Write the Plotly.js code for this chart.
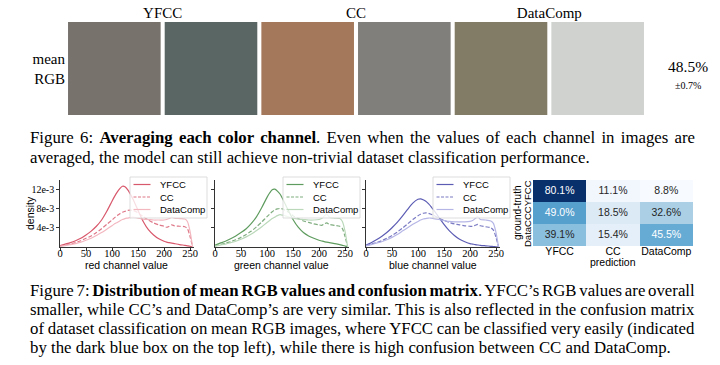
<!DOCTYPE html>
<html><head><meta charset="utf-8">
<script src="https://cdn.plot.ly/plotly-3.0.1.min.js"></script>
<style>html,body{margin:0;padding:0;background:#fff;} #chart{width:720px;height:365px;}</style>
</head><body><div id="chart"></div>
<script>
// ---------------- data ----------------
const datasetNames = ["YFCC", "CC", "DataComp"];
const swatchIds = [0, 1, 2, 3, 4, 5];
const swatchDataset = ["YFCC", "YFCC", "CC", "CC", "DataComp", "DataComp"];
const swatchHeight = [1, 1, 1, 1, 1, 1];
const swatchColors = ["#77726c", "#5a6663", "#a4785a", "#807f7b", "#827b65", "#cfd2cf"];
const meanRgbAccuracy = "48.5%";
const meanRgbStd = "±0.7%";

// channel value grid and densities (units of 1e-3)
const channelValue = [0,10,20,30,40,50,60,70,80,90,100,105,110,115,120,125,130,140,150,160,170,180,190,200,205,210,215,220,230,240,245,250,255];
const redYFCC     = [0.3,0.6,0.9,1.3,1.8,2.5,3.3,4.3,5.6,7.4,9.5,10.5,11.4,12.1,12.6,12.5,11.9,10.0,7.6,5.3,3.6,2.5,1.7,1.2,1.0,0.9,0.8,0.7,0.5,0.35,0.25,0.15,0.0];
const redCC       = [0.2,0.4,0.6,0.9,1.3,1.8,2.3,3.0,3.8,4.7,5.6,6.1,6.5,6.9,7.2,7.4,7.6,7.6,7.1,6.3,5.6,5.0,4.6,4.3,4.1,4.3,4.6,4.4,4.3,4.2,3.8,2.2,0.0];
const redDataComp = [0.15,0.3,0.5,0.7,1.0,1.4,1.8,2.4,3.0,3.7,4.4,4.8,5.1,5.4,5.7,5.9,6.0,6.2,6.0,5.8,5.7,5.6,5.6,5.6,5.7,5.9,6.2,6.0,5.9,5.8,5.3,3.3,0.0];
const greenYFCC     = [0.4,0.8,1.2,1.7,2.3,3.0,3.8,4.9,6.3,8.2,10.3,11.2,11.9,12.0,11.6,11.0,10.0,7.8,5.7,4.1,3.0,2.3,1.8,1.4,1.25,1.1,1.0,0.9,0.7,0.5,0.35,0.2,0.0];
const greenCC       = [0.25,0.5,0.8,1.1,1.5,2.0,2.6,3.3,4.2,5.2,6.3,6.8,7.3,7.7,7.9,8.0,7.9,7.3,6.5,5.9,5.4,5.1,4.8,4.6,4.5,4.8,5.0,4.7,4.5,4.3,3.8,2.2,0.0];
const greenDataComp = [0.2,0.4,0.6,0.9,1.2,1.6,2.1,2.7,3.4,4.2,5.1,5.5,5.9,6.2,6.5,6.7,6.6,6.3,6.0,5.8,5.7,5.6,5.6,5.7,5.9,6.4,6.8,6.2,6.0,5.9,5.3,3.3,0.0];
const blueYFCC     = [0.4,0.9,1.5,2.2,3.0,4.0,5.1,6.4,7.8,9.1,9.9,10.0,9.8,9.5,9.0,8.4,7.7,6.2,4.7,3.4,2.4,1.6,1.1,0.7,0.6,0.5,0.42,0.35,0.25,0.15,0.1,0.05,0.0];
const blueCC       = [0.3,0.6,0.9,1.3,1.8,2.4,3.1,3.9,4.8,5.7,6.5,6.8,7.0,7.1,7.0,6.8,6.6,6.0,5.5,5.1,4.8,4.6,4.4,4.3,4.3,4.5,4.7,4.4,4.2,4.0,3.5,2.0,0.0];
const blueDataComp = [0.25,0.5,0.8,1.1,1.5,2.0,2.6,3.3,4.0,4.7,5.3,5.6,5.8,5.9,6.0,6.0,5.9,5.7,5.5,5.3,5.2,5.2,5.2,5.3,5.5,5.9,6.3,5.7,5.6,5.4,4.9,3.0,0.0];

const xTickVals = [0, 50, 100, 150, 200, 250];
const densityTickVals = [4, 8, 12];
const densityTickText = ["4e-3", "8e-3", "12e-3"];
const channelNames = ["red channel value", "green channel value", "blue channel value"];

// confusion matrix (rows = ground truth, cols = prediction), percent
const confusionRows = ["YFCC", "CC", "DataComp"];
const confusionCols = ["YFCC", "CC", "DataComp"];
const confusion = [[80.1, 11.1, 8.8], [49.0, 18.5, 32.6], [39.1, 15.4, 45.5]];

// ---------------- styles ----------------
const W = 720, H = 365;
const PX = p => p / W, PY = p => 1 - p / H;
const SERIF = "Liberation Serif, Times New Roman, serif";
const SANS = "Liberation Sans, Arial, sans-serif";
const palette = {
  red:   ["#d8586c", "#df7888", "#f3b7c0"],
  green: ["#5f9c5f", "#7fad7f", "#bad8ba"],
  blue:  ["#5c5cb4", "#7b7bc4", "#b6b6e6"]
};
const dashes = ["solid", "4px,2px", "solid"];
const blues = [[0, "#f7fbff"], [0.125, "#deebf7"], [0.25, "#c6dbef"], [0.375, "#9ecae1"], [0.5, "#6baed6"], [0.625, "#4292c6"], [0.75, "#2171b5"], [0.875, "#08519c"], [1, "#08306b"]];

const densPanels = [
  {color: "red",   series: [redYFCC, redCC, redDataComp],       x0: 60,  leg: 130},
  {color: "green", series: [greenYFCC, greenCC, greenDataComp], x0: 215, leg: 283},
  {color: "blue",  series: [blueYFCC, blueCC, blueDataComp],    x0: 366, leg: 433}
];
const pxPerUnit = 0.52, xMax = 258;
const plotTop = 180, plotBottom = 247;

const traces = [];
const shapes = [];
const annotations = [];
const layout = {
  width: W, height: H, margin: {l: 0, r: 0, t: 0, b: 0},
  paper_bgcolor: "#fff", plot_bgcolor: "rgba(0,0,0,0)", showlegend: false,
  font: {family: SANS, color: "#000"}
};

densPanels.forEach((p, i) => {
  const k = i + 1, xs = k === 1 ? "" : String(k);
  const xa = "x" + xs, ya = "y" + xs;
  p.series.forEach((s, j) => {
    traces.push({
      type: "scatter", mode: "lines", x: channelValue, y: s, xaxis: xa, yaxis: ya,
      name: datasetNames[j], line: {color: palette[p.color][j], width: 1.2, dash: dashes[j], shape: "spline", smoothing: 0.7},
      hoverinfo: "skip"
    });
  });
  layout["xaxis" + xs] = {
    domain: [PX(p.x0), PX(p.x0 + xMax * pxPerUnit)], range: [0, xMax], anchor: ya,
    showgrid: false, zeroline: false, showline: true, linecolor: "#000", linewidth: 0.8,
    ticks: "outside", ticklen: 3, tickwidth: 0.8, tickcolor: "#000", ticklabelstandoff: -6,
    tickvals: xTickVals, tickfont: {family: SERIF, size: 10.5, color: "#000"}
  };
  layout["yaxis" + xs] = {
    domain: [PY(plotBottom), PY(plotTop)], range: [0, 13.9], anchor: xa,
    showgrid: false, zeroline: false, showline: true, linecolor: "#000", linewidth: 0.8,
    ticks: "outside", ticklen: 3, tickwidth: 0.8, tickcolor: "#000",
    tickvals: densityTickVals, ticktext: densityTickText, showticklabels: i === 0,
    tickfont: {family: SERIF, size: 10, color: "#000"}
  };
  // axis label
  annotations.push({xref: "paper", yref: "paper", x: PX(p.x0 + 128 * pxPerUnit), y: PY(264.5), text: channelNames[i],
    showarrow: false, font: {family: SANS, size: 10.5, color: "#000"}, xanchor: "center", yanchor: "middle"});
  // legend (matplotlib style box)
  const L = p.leg;
  shapes.push({type: "rect", xref: "paper", yref: "paper", x0: PX(L), x1: PX(L + 77), y0: PY(218), y1: PY(177),
    line: {color: "#d4d4d4", width: 0.8}, fillcolor: "rgba(255,255,255,0.8)", layer: "above"});
  [184.5, 197, 209.5].forEach((ry, j) => {
    shapes.push({type: "line", xref: "paper", yref: "paper", x0: PX(L + 3.5), x1: PX(L + 20.5), y0: PY(ry), y1: PY(ry),
      line: {color: palette[p.color][j], width: 1.2, dash: dashes[j] === "solid" ? "solid" : "3px,1.5px"}, layer: "above"});
    annotations.push({xref: "paper", yref: "paper", x: PX(L + 28), y: PY(ry), text: datasetNames[j], showarrow: false,
      xanchor: "left", yanchor: "middle", font: {family: SANS, size: 9.5, color: "#000"}});
  });
});
annotations.push({xref: "paper", yref: "paper", x: PX(30), y: PY(213), text: "density", textangle: -90, showarrow: false,
  font: {family: SANS, size: 10.5, color: "#000"}, xanchor: "center", yanchor: "middle"});

// ---- mean RGB swatches ----
traces.push({type: "bar", x: swatchIds, y: swatchHeight, xaxis: "x4", yaxis: "y4", width: 0.958,
  marker: {color: swatchColors, line: {width: 0}}, customdata: swatchDataset, hoverinfo: "skip"});
layout.xaxis4 = {domain: [PX(66), PX(646)], range: [-0.5, 5.5], anchor: "y4", side: "top",
  showgrid: false, zeroline: false, showline: false, ticks: "",
  tickvals: [0.5, 2.5, 4.5], ticktext: datasetNames, tickfont: {family: SERIF, size: 15, color: "#000"}};
layout.yaxis4 = {domain: [PY(115), PY(22)], range: [0, 1], anchor: "x4",
  showgrid: false, zeroline: false, showline: false, ticks: "",
  tickvals: [0.5], ticktext: ["mean<br>RGB"], tickfont: {family: SERIF, size: 15, color: "#000"}};
annotations.push({xref: "paper", yref: "paper", x: PX(688), y: PY(66), text: meanRgbAccuracy, showarrow: false,
  font: {family: SERIF, size: 15.5, color: "#000"}, xanchor: "center", yanchor: "middle"});
annotations.push({xref: "paper", yref: "paper", x: PX(688), y: PY(85), text: meanRgbStd, showarrow: false,
  font: {family: SERIF, size: 10, color: "#000"}, xanchor: "center", yanchor: "middle"});

// ---- confusion matrix ----
const zmin = Math.min(...confusion.flat()), zmax = Math.max(...confusion.flat());
traces.push({type: "heatmap", z: confusion, x: confusionCols, y: confusionRows, xaxis: "x5", yaxis: "y5",
  colorscale: blues, zmin: zmin, zmax: zmax, showscale: false, xgap: 0, ygap: 0, hoverinfo: "skip"});
const cmX = [], cmY = [], cmT = [], cmC = [];
confusion.forEach((row, r) => row.forEach((v, c) => {
  cmX.push(confusionCols[c]); cmY.push(confusionRows[r]); cmT.push(v.toFixed(1) + "%");
  cmC.push((v - zmin) / (zmax - zmin) > 0.5 ? "#ffffff" : "#262626");
}));
traces.push({type: "scatter", mode: "text", x: cmX, y: cmY, text: cmT, xaxis: "x5", yaxis: "y5",
  textfont: {family: SANS, size: 10.5, color: cmC}, textposition: "middle center", hoverinfo: "skip"});
layout.xaxis5 = {domain: [PX(533), PX(693)], anchor: "y5", showgrid: false, zeroline: false, showline: false, ticks: "",
  ticklabelstandoff: -3,
  tickfont: {family: SANS, size: 10.5, color: "#000"}, categoryorder: "array", categoryarray: confusionCols};
layout.yaxis5 = {domain: [PY(246), PY(180)], anchor: "x5", showgrid: false, zeroline: false, showline: false, ticks: "",
  autorange: "reversed", showticklabels: false, categoryorder: "array", categoryarray: confusionRows};
annotations.push({xref: "paper", yref: "paper", x: PX(613), y: PY(262), text: "prediction", showarrow: false,
  font: {family: SANS, size: 10.5, color: "#000"}, xanchor: "center", yanchor: "middle"});
annotations.push({xref: "paper", yref: "paper", x: PX(517), y: PY(213), text: "ground-truth", textangle: -90, showarrow: false,
  font: {family: SANS, size: 10, color: "#000"}, xanchor: "center", yanchor: "middle"});
annotations.push({xref: "paper", yref: "paper", x: PX(527), y: PY(214), text: "DataCCCYFCC", textangle: -90, showarrow: false,
  font: {family: SANS, size: 9.5, color: "#000"}, xanchor: "center", yanchor: "middle"});

// ---- captions ----
const captionLines = [
  {y: 137, t: "Figure 6: <b>Averaging each color channel</b>. Even when the values of each channel in images are", j: true},
  {y: 157, t: "averaged, the model can still achieve non-trivial dataset classification performance.", j: false},
  {y: 290, t: "Figure 7: <b>Distribution of mean RGB values and confusion matrix</b>. YFCC’s RGB values are overall", j: true},
  {y: 309, t: "smaller, while CC’s and DataComp’s are very similar. This is also reflected in the confusion matrix", j: true},
  {y: 328, t: "of dataset classification on mean RGB images, where YFCC can be classified very easily (indicated", j: true},
  {y: 347, t: "by the dark blue box on the top left), while there is high confusion between CC and DataComp.", j: false}
];
captionLines.forEach(c => annotations.push({xref: "paper", yref: "paper", x: PX(28), y: PY(c.y), text: c.t, showarrow: false,
  xanchor: "left", yanchor: "middle", align: "left", font: {family: SERIF, size: 16.8, color: "#000"}}));

layout.shapes = shapes;
layout.annotations = annotations;

Plotly.newPlot("chart", traces, layout, {staticPlot: true}).then(gd => {
  // justify the caption lines to the text block width
  const target = 693 - 28;
  const nodes = gd.querySelectorAll("text.annotation-text");
  nodes.forEach(n => {
    const raw = n.getAttribute("data-unformatted");
    const line = captionLines.find(c => c.t === raw);
    if (!line || !line.j) return;
    const w = n.getBBox().width;
    const spaces = (n.textContent.match(/ /g) || []).length;
    if (spaces > 0) n.style.wordSpacing = ((target - w) / spaces).toFixed(2) + "px";
  });
});
</script>
</body></html>
